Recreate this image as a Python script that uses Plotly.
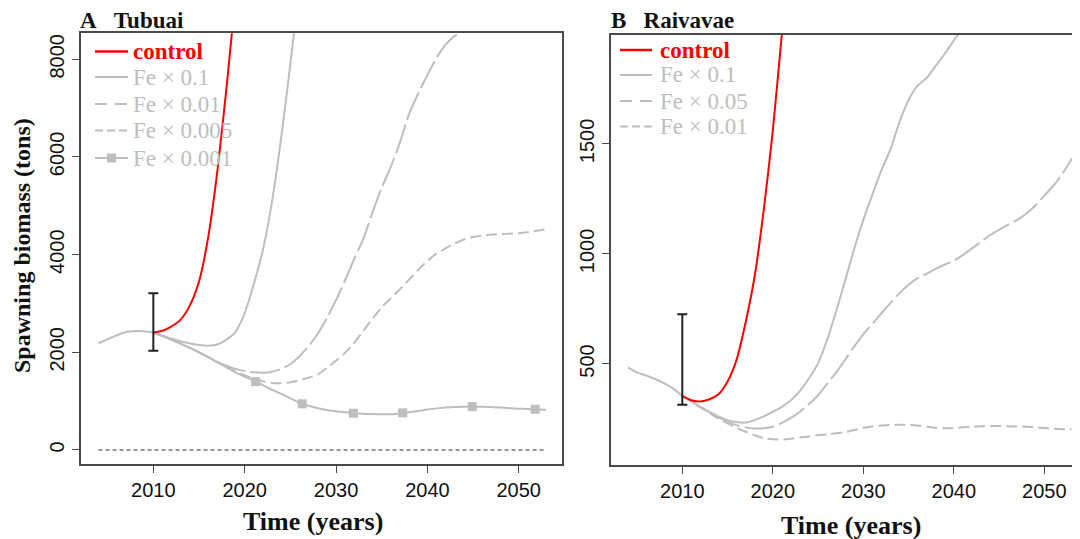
import plotly.graph_objects as go

# ---------------- data ----------------
# Panel A: Tubuai
hist_years_A = [2004, 2005, 2006, 2007, 2008, 2009, 2010]
hist_A = [2185, 2270, 2350, 2415, 2437, 2432, 2405]

ctrl_years_A = [2010, 2011, 2012, 2013, 2014, 2015, 2016, 2017, 2018, 2019]
ctrl_A = [2405, 2440, 2530, 2670, 2960, 3450, 4350, 5700, 7400, 9300]

fe01_years_A = list(range(2010, 2027))
fe01_A = [2405, 2340, 2280, 2225, 2180, 2150, 2136, 2160, 2260, 2420, 2800,
          3400, 4100, 5100, 6400, 7900, 9500]

fe001_years_A = list(range(2010, 2046))
fe001_A = [2405, 2335, 2260, 2175, 2090, 2000, 1905, 1810, 1725, 1660, 1615,
           1590, 1580, 1600, 1660, 1760, 1920, 2130, 2380, 2700, 3070, 3480,
           3920, 4330, 4870, 5370, 5800, 6300, 6880, 7300, 7680, 8030, 8300,
           8480, 8580, 8650]

fe0005_years_A = list(range(2010, 2054))
fe0005_A = [2405, 2335, 2260, 2175, 2090, 2000, 1900, 1800, 1700, 1610, 1530,
            1460, 1405, 1372, 1365, 1385, 1430, 1480, 1545, 1680, 1830, 1990,
            2200, 2440, 2690, 2920, 3110, 3290, 3490, 3690, 3870, 4020, 4130,
            4230, 4310, 4360, 4390, 4410, 4420, 4430, 4440, 4460, 4490, 4520]

fe0001_years_A = list(range(2010, 2054))
fe0001_A = [2405, 2335, 2260, 2175, 2090, 2000, 1900, 1795, 1690, 1590, 1500,
            1420, 1330, 1230, 1150, 1060, 970, 905, 855, 820, 795, 772, 752,
            742, 736, 732, 732, 748, 772, 800, 828, 852, 868, 878, 885, 887,
            886, 882, 870, 857, 846, 838, 831, 826]
fe0001_mark_years_A = [2021.2, 2026.3, 2031.9, 2037.3, 2044.9, 2051.8]
fe0001_mark_A = [1400, 945, 752, 760, 887, 833]

zero_years_A = [2004, 2053]
zero_A = [0, 0]

obs_year_A = 2010
obs_low_A, obs_high_A = 2033, 3209

# Panel B: Raivavae
hist_years_B = [2004, 2005, 2006, 2007, 2008, 2009, 2010]
hist_B = [485, 462, 448, 432, 412, 388, 355]

ctrl_years_B = list(range(2010, 2023))
ctrl_B = [355, 335, 330, 340, 362, 420, 520, 690, 900, 1200, 1560, 2000, 2450]

fe01_years_B = list(range(2010, 2042))
fe01_B = [355, 330, 305, 282, 262, 245, 236, 234, 245, 262, 282, 305, 335,
          378, 435, 503, 610, 740, 880, 1025, 1155, 1270, 1380, 1475, 1600,
          1700, 1765, 1800, 1855, 1910, 1970, 2030]

fe005_years_B = list(range(2010, 2055))
fe005_B = [355, 330, 305, 281, 258, 238, 222, 212, 207, 208, 215, 232, 255,
           283, 318, 358, 410, 462, 520, 580, 635, 682, 730, 778, 822, 860,
           890, 910, 932, 952, 970, 995, 1025, 1055, 1086, 1110, 1133, 1155,
           1183, 1220, 1265, 1310, 1365, 1430, 1490]

fe001_years_B = list(range(2010, 2054))
fe001_B = [355, 330, 303, 277, 252, 230, 210, 192, 176, 163, 158, 157, 160,
           166, 171, 176, 180, 185, 190, 200, 210, 216, 220, 223, 224, 223,
           220, 215, 210, 208, 209, 212, 215, 217, 218, 218, 217, 216, 215,
           213, 209, 206, 204, 203]

obs_year_B = 2010
obs_low_B, obs_high_B = 315, 726

xticks = [2010, 2020, 2030, 2040, 2050]
yticks_A = [0, 2000, 4000, 6000, 8000]
yticks_B = [500, 1000, 1500]

legend_A = ["control", "Fe × 0.1", "Fe × 0.01", "Fe × 0.005", "Fe × 0.001"]
legend_B = ["control", "Fe × 0.1", "Fe × 0.05", "Fe × 0.01"]

# ---------------- style ----------------
OFF = 8                      # page body margin
W, H = 1080 - OFF, 539 - OFF  # figure size so page fits the window exactly
RED = "#FF0000"
GRAY = "#BEBEBE"
AX = "#4a4a4a"
SERIF = "Liberation Serif, Times New Roman, serif"
SANS = "Liberation Sans, Arial, sans-serif"
LONG = "30px,5px"
SHORT = "11px,5px"
LW = 2


def pxx(x):
    return (x - OFF) / W


def pyy(y):
    return 1 - (y - OFF) / H


fig = go.Figure()


def line(x, y, color, dash="solid", xa="x", ya="y", width=LW):
    fig.add_trace(go.Scatter(x=x, y=y, mode="lines", xaxis=xa, yaxis=ya,
                             line=dict(color=color, width=width, dash=dash,
                                       shape="spline", smoothing=0.6),
                             showlegend=False, hoverinfo="skip"))


# Panel A
fig.add_trace(go.Scatter(x=zero_years_A, y=zero_A, mode="lines",
                         line=dict(color="#333333", width=1.2, dash="4px,3px"),
                         showlegend=False, hoverinfo="skip"))
line(hist_years_A, hist_A, GRAY)
line(fe0001_years_A, fe0001_A, GRAY)
fig.add_trace(go.Scatter(x=fe0001_mark_years_A, y=fe0001_mark_A, mode="markers",
                         marker=dict(symbol="square", size=9, color=GRAY),
                         showlegend=False, hoverinfo="skip"))
line(fe0005_years_A, fe0005_A, GRAY, SHORT)
line(fe001_years_A, fe001_A, GRAY, LONG)
line(fe01_years_A, fe01_A, GRAY)
line(ctrl_years_A, ctrl_A, RED)
fig.add_trace(go.Scatter(x=[obs_year_A], y=[(obs_low_A + obs_high_A) / 2],
                         mode="markers", marker=dict(size=1, opacity=0),
                         error_y=dict(type="data", symmetric=True,
                                      array=[(obs_high_A - obs_low_A) / 2],
                                      color="#222222", thickness=2, width=5),
                         showlegend=False, hoverinfo="skip"))

# Panel B
line(hist_years_B, hist_B, GRAY, xa="x2", ya="y2")
line(fe001_years_B, fe001_B, GRAY, SHORT, xa="x2", ya="y2")
line(fe005_years_B, fe005_B, GRAY, LONG, xa="x2", ya="y2")
line(fe01_years_B, fe01_B, GRAY, xa="x2", ya="y2")
line(ctrl_years_B, ctrl_B, RED, xa="x2", ya="y2")
fig.add_trace(go.Scatter(x=[obs_year_B], y=[(obs_low_B + obs_high_B) / 2],
                         xaxis="x2", yaxis="y2",
                         mode="markers", marker=dict(size=1, opacity=0),
                         error_y=dict(type="data", symmetric=True,
                                      array=[(obs_high_B - obs_low_B) / 2],
                                      color="#222222", thickness=2, width=5),
                         showlegend=False, hoverinfo="skip"))

axis_common = dict(showgrid=False, zeroline=False, showline=True,
                   linecolor=AX, linewidth=1.5, ticks="outside", ticklen=7,
                   tickwidth=1.3, tickcolor=AX,
                   tickfont=dict(family=SANS, size=20, color="#111111"))

fig.update_layout(
    width=W, height=H,
    margin=dict(l=0, r=0, t=0, b=0),
    paper_bgcolor="white", plot_bgcolor="white",
    showlegend=False,
    xaxis=dict(domain=[pxx(81), pxx(562.3)], range=[2002.08, 2054.77],
               tickvals=xticks, mirror=True, anchor="y", **axis_common),
    yaxis=dict(domain=[pyy(464), pyy(33.3)], range=[-287, 8532],
               tickvals=yticks_A, tickangle=-90, mirror=True, anchor="x",
               **axis_common),
    xaxis2=dict(domain=[pxx(610.7), 1.0], range=[2002.09, 2053.94],
                tickvals=xticks, mirror=True, anchor="y2", **axis_common),
    yaxis2=dict(domain=[pyy(465), pyy(35)], range=[41, 1995],
                tickvals=yticks_B, tickangle=-90, mirror=False, anchor="x2",
                **axis_common),
)

shapes = []
annotations = []


def legend(entries, styles, x0, x1, xt, rows):
    for name, (color, dash, square), ry in zip(entries, styles, rows):
        shapes.append(dict(type="line", xref="paper", yref="paper",
                           x0=pxx(x0), x1=pxx(x1), y0=pyy(ry), y1=pyy(ry),
                           line=dict(color=color, width=LW + (0.5 if color == RED else 0),
                                     dash=dash)))
        if square:
            cx = (x0 + x1) / 2
            shapes.append(dict(type="rect", xref="paper", yref="paper",
                               x0=pxx(cx - 4.5), x1=pxx(cx + 4.5),
                               y0=pyy(ry + 4.5), y1=pyy(ry - 4.5),
                               fillcolor=GRAY, line=dict(width=0)))
        txt = "<b>%s</b>" % name if color == RED else name
        annotations.append(dict(xref="paper", yref="paper", x=pxx(xt), y=pyy(ry),
                                xanchor="left", yanchor="middle", showarrow=False,
                                text=txt, font=dict(family=SERIF, size=23, color=color)))


legend(legend_A,
       [(RED, "solid", False), (GRAY, "solid", False), (GRAY, "12px,8px", False),
        (GRAY, "8px,4px", False), (GRAY, "solid", True)],
       95, 128, 131, [51.5, 77, 104, 130.5, 158])
legend(legend_B,
       [(RED, "solid", False), (GRAY, "solid", False), (GRAY, "12px,8px", False),
        (GRAY, "8px,4px", False)],
       620, 652, 658, [50, 75, 101, 126.5])

# titles
annotations += [
    dict(xref="paper", yref="paper", x=pxx(79), y=pyy(19.5), xanchor="left",
         yanchor="middle", showarrow=False, height=22, valign="middle",
         borderpad=0,
         text="<b>A\u00a0\u00a0\u00a0Tubuai</b>",
         font=dict(family=SERIF, size=23, color="#111111")),
    dict(xref="paper", yref="paper", x=pxx(610), y=pyy(20), xanchor="left",
         yanchor="middle", showarrow=False, height=22, valign="middle",
         borderpad=0,
         text="<b>B\u00a0\u00a0\u00a0Raivavae</b>",
         font=dict(family=SERIF, size=23, color="#111111")),
    dict(xref="paper", yref="paper", x=pxx(22), y=pyy(246), xanchor="center",
         yanchor="middle", showarrow=False, textangle=-90,
         text="<b>Spawning biomass (tons)</b>",
         font=dict(family=SERIF, size=24, color="#111111")),
    dict(xref="paper", yref="paper", x=pxx(313), y=pyy(521), xanchor="center",
         yanchor="middle", showarrow=False, text="<b>Time (years)</b>",
         font=dict(family=SERIF, size=26, color="#111111")),
    dict(xref="paper", yref="paper", x=pxx(851), y=pyy(525), xanchor="center",
         yanchor="middle", showarrow=False, text="<b>Time (years)</b>",
         font=dict(family=SERIF, size=26, color="#111111")),
]

fig.update_layout(shapes=shapes, annotations=annotations)
fig.write_html("out.html")
